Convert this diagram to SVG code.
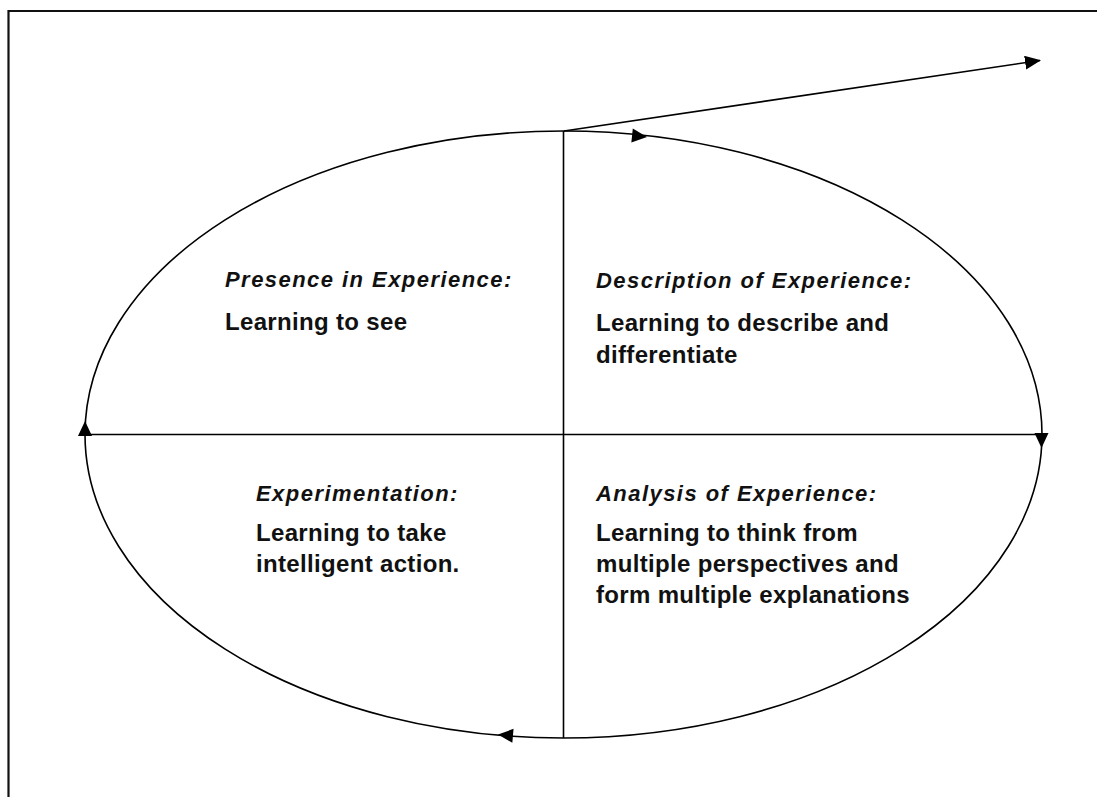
<svg xmlns="http://www.w3.org/2000/svg" width="1097" height="797" viewBox="0 0 1097 797">
<style>
.ln{fill:none;stroke:#000;stroke-width:1.6}
.bd{fill:none;stroke:#111;stroke-width:2.2}
.hd{font-family:"Liberation Sans",Arial,sans-serif;font-weight:bold;font-style:italic;font-size:22px;letter-spacing:1.45px;fill:#111}
.tx{font-family:"Liberation Sans",Arial,sans-serif;font-weight:bold;font-size:24px;letter-spacing:0.33px;fill:#111}
</style>
<defs>
<marker id="ah" viewBox="0 0 16 14" refX="15" refY="7" markerWidth="16" markerHeight="14" markerUnits="userSpaceOnUse" orient="auto">
<path d="M0,0 L16,7 L0,14 Z" fill="#000"/>
</marker>
<path id="tri" d="M0,0 L-15,-7 L-15,7 Z" fill="#000"/>
</defs>
<rect width="1097" height="797" fill="#fff"/>
<g id="frame">
<path class="bd" d="M8.5,797 L8.5,11 L1097,11"/>
</g>
<g id="connectors">
<ellipse class="ln" cx="563.5" cy="434.5" rx="478.5" ry="303.5"/>
<line class="ln" x1="563.5" y1="131" x2="563.5" y2="738"/>
<line class="ln" x1="85" y1="434.5" x2="1042" y2="434.5"/>
<line class="ln" x1="564" y1="131" x2="1040" y2="60.5" marker-end="url(#ah)"/>
<use href="#tri" transform="translate(647,137) rotate(6)"/>
<use href="#tri" transform="translate(85,421) rotate(-90)"/>
<use href="#tri" transform="translate(1041.5,448) rotate(90)"/>
<use href="#tri" transform="translate(498,734.5) rotate(185)"/>
</g>
<g id="node-presence">
<text class="hd" x="225" y="287">Presence in Experience:</text>
<text class="tx" x="225" y="330">Learning to see</text>
</g>
<g id="node-description">
<text class="hd" x="596" y="288">Description of Experience:</text>
<text class="tx" x="596" y="331">Learning to describe and</text>
<text class="tx" x="596" y="363">differentiate</text>
</g>
<g id="node-experimentation">
<text class="hd" x="256" y="501">Experimentation:</text>
<text class="tx" x="256" y="541">Learning to take</text>
<text class="tx" x="256" y="572">intelligent action.</text>
</g>
<g id="node-analysis">
<text class="hd" x="596" y="501">Analysis of Experience:</text>
<text class="tx" x="596" y="541">Learning to think from</text>
<text class="tx" x="596" y="572">multiple perspectives and</text>
<text class="tx" x="596" y="603">form multiple explanations</text>
</g>
</svg>
